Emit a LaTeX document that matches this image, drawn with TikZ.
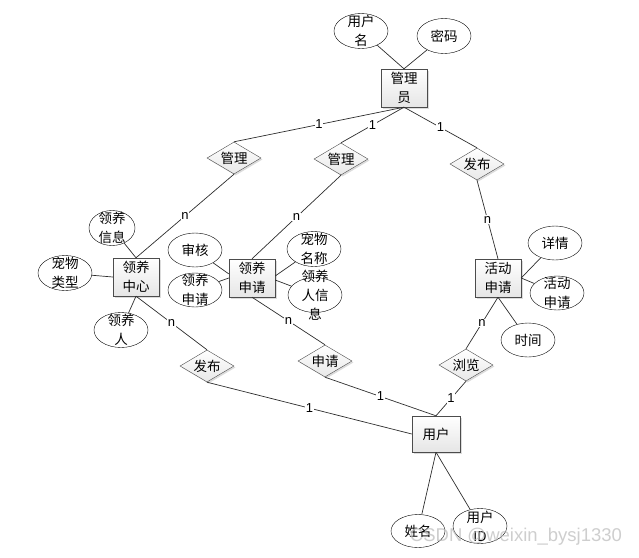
\documentclass[tikz,border=0pt]{standalone}
\usepackage{fontspec}
\setmainfont{Noto Sans CJK SC}
\newfontfamily\latinf{Liberation Sans}
\usetikzlibrary{shapes.geometric,shadows}
\begin{document}
\begin{tikzpicture}[x=1pt,y=-1pt,
  font=\fontsize{13.5}{19}\selectfont,
  shadowed/.style={drop shadow={shadow xshift=1.5pt,shadow yshift=-1.5pt,fill=gray!55}},
  ent/.style={rectangle, draw=gray!60!black, top color=white, bottom color=gray!20,
    shadowed, minimum width=46pt, minimum height=38pt, inner sep=0pt, align=center},
  rel/.style={diamond, draw=gray!60!black, top color=white, bottom color=gray!18,
    shadowed, minimum width=54pt, minimum height=32pt, aspect=1.65, inner sep=0pt},
  attr/.style={ellipse, draw=black, fill=white, minimum width=54pt, minimum height=35pt, inner sep=0pt},
  txt/.style={align=center, inner sep=0pt},
  lnk/.style={draw=gray!35!black, line width=0.7pt},
  card/.style={fill=white, inner sep=0.6pt, font=\latinf\fontsize{13}{13}\selectfont},
]
\useasboundingbox (0,0) rectangle (639,557);

% entities
\node[ent] (admin) at (404,88) {管理\\员};
\node[ent] (c1) at (136,277) {领养\\中心};
\node[ent] (ap) at (252,278) {领养\\申请};
\node[ent] (aa) at (498,278) {活动\\申请};
\node[ent, minimum width=48pt, minimum height=36pt] (user) at (436,434) {用户};

% relationships
\node[rel] (r1) at (234,158) {管理};
\node[rel] (r2) at (341,159) {管理};
\node[rel] (r3) at (477,164) {发布};
\node[rel] (r4) at (207,366) {发布};
\node[rel] (r5) at (325,361) {申请};
\node[rel] (r6) at (466,365) {浏览};

% attributes
\node[attr, label={[txt]center:{用户\\名}}] (un) at (361,31) {};
\node[attr, label={[txt]center:{密码}}] (pw) at (444,36) {};
\node[attr, minimum width=46pt, label={[txt]center:{领养\\信息}}] (li) at (112,228) {};
\node[attr, label={[txt]center:{宠物\\类型}}] (pt) at (65,273) {};
\node[attr, label={[txt]center:{领养\\人}}] (lr) at (121,330) {};
\node[attr, minimum height=34pt, label={[txt]center:{审核}}] (sh) at (195,250) {};
\node[attr, minimum height=34pt, label={[txt]center:{领养\\申请}}] (la) at (195,290) {};
\node[attr, label={[txt]center:{宠物\\名称}}] (pn) at (314,249) {};
\node[attr, label={[txt]center:{领养\\人信\\息}}] (ri) at (315,295) {};
\node[attr, minimum height=34pt, label={[txt]center:{详情}}] (xq) at (555,243) {};
\node[attr, minimum height=34pt, label={[txt]center:{活动\\申请}}] (hd) at (557,293) {};
\node[attr, minimum height=34pt, label={[txt]center:{时间}}] (sj) at (528,340) {};
\node[attr, minimum height=33pt, label={[txt]center:{姓名}}] (xm) at (418,531) {};
\node[attr, label={[txt]center:{用户\\ID}}] (uid) at (480,526) {};

% attribute links
\draw[lnk] (un) -- (admin.north);
\draw[lnk] (pw) -- (admin.north);
\draw[lnk] (li) -- (c1.north);
\draw[lnk] (pt) -- (c1.west);
\draw[lnk] (lr) -- (c1.south);
\draw[lnk] (sh) -- (ap.170);
\draw[lnk] (la) -- (ap.west);
\draw[lnk] (pn) -- (ap.5);
\draw[lnk] (ri) -- (ap.-5);
\draw[lnk] (xq) -- (aa.east);
\draw[lnk] (hd) -- (aa.east);
\draw[lnk] (sj) -- (aa.south);
\draw[lnk] (user.south) -- (xm);
\draw[lnk] (user.south) -- (uid);

% relationship links
\draw[lnk] (admin.south) -- node[card]{1} (r1.north);
\draw[lnk] (admin.south) -- node[card]{1} (r2.north);
\draw[lnk] (admin.south) -- node[card]{1} (r3.north);
\draw[lnk] (r1.south) -- node[card]{n} (c1.north);
\draw[lnk] (r2.south) -- node[card]{n} (ap.north);
\draw[lnk] (r3.south) -- node[card]{n} (aa.north);
\draw[lnk] (c1.south) -- node[card]{n} (r4.north);
\draw[lnk] (ap.south) -- node[card]{n} (r5.north);
\draw[lnk] (aa.south) -- node[card]{n} (r6.north);
\draw[lnk] (r4.south) -- node[card]{1} (user.west);
\draw[lnk] (r5.south) -- node[card]{1} (user.north);
\draw[lnk] (r6.south) -- node[card]{1} (user.north);

% watermark
\node[text=gray!55, opacity=0.7, font=\latinf\fontsize{18.5}{18.5}\selectfont, inner sep=0pt] (wm) at (516,537) {CSDN @weixin\_bysj1330};
\end{tikzpicture}
\end{document}
